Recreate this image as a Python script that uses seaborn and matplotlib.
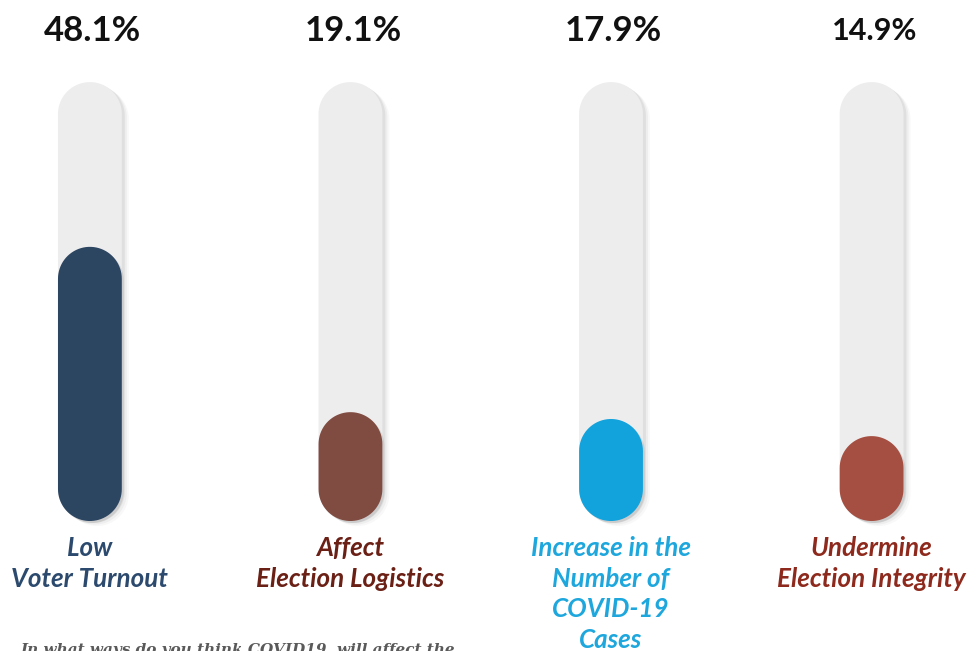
import numpy as np
import pandas as pd
import seaborn as sns
import matplotlib.pyplot as plt
from matplotlib.patches import Polygon

# data
categories = ["Low\nVoter Turnout", "Affect\nElection Logistics",
              "Increase in the\nNumber of\nCOVID-19\nCases", "Undermine\nElection Integrity"]
values = [48.1, 19.1, 17.9, 14.9]
value_labels = ["48.1%", "19.1%", "17.9%", "14.9%"]
fill_colors = ["#2c4561", "#804b40", "#12a2dc", "#a54f42"]
label_colors = ["#2c4a6e", "#6b2016", "#1ea7dd", "#8e2a1d"]
SCALE_MAX = 77  # top of the grey track

sns.set_theme(style="white")
plt.rcParams["font.family"] = ["Lato", "DejaVu Sans"]

fig = plt.figure(figsize=(9.68, 6.51), dpi=100)
ax = fig.add_axes([0, 0, 1, 1])

df = pd.DataFrame({"cat": categories, "val": values, "track": [SCALE_MAX] * len(values)})

sns.barplot(data=df, x="cat", y="track", color="#eeedee", saturation=1,
            width=0.245, ax=ax)
sns.barplot(data=df, x="cat", y="val", hue="cat", palette=fill_colors, saturation=1,
            width=0.245, legend=False, ax=ax)

XLIM = (-0.345, 3.37)
YLIM = (-22.8, 91.4)
ax.set_xlim(*XLIM)
ax.set_ylim(*YLIM)
ax.set_axis_off()

x_upp = (XLIM[1] - XLIM[0]) / 968
y_upp = (YLIM[1] - YLIM[0]) / 651
aspect = y_upp / x_upp


def pill(x0, y0, w, h):
    # rectangle with true semicircle ends (in screen space)
    r = w / 2
    ry = r * aspect
    cx = x0 + r
    t = np.linspace(0, np.pi, 40)
    top = np.column_stack([cx + r * np.cos(t), y0 + h - ry + ry * np.sin(t)])
    bot = np.column_stack([cx - r * np.cos(t), y0 + ry - ry * np.sin(t)])
    return np.vstack([top, bot])


n = len(values)
rects = list(ax.patches)
for k, p in enumerate(rects):
    x0, y0, w, h = p.get_x(), p.get_y(), p.get_width(), p.get_height()
    fc = p.get_facecolor()
    p.remove()
    verts = pill(x0, y0, w, h)
    is_track = k < n
    if is_track:
        # soft shadow
        for j, a in enumerate([0.09, 0.06, 0.04]):
            dx = (3 + j * 2) * x_upp
            dy = (2 + j * 1.5) * y_upp
            ax.add_patch(Polygon(verts + [dx, -dy], closed=True, fc="#555555",
                                 ec="none", alpha=a, zorder=1))
    else:
        ax.add_patch(Polygon(verts + [2 * x_upp, -2 * y_upp], closed=True,
                             fc="#444444", ec="none", alpha=0.12, zorder=2.5))
    ax.add_patch(Polygon(verts, closed=True, fc=fc, ec="none",
                         zorder=2 if is_track else 3))

# percentages on top
for i, lab in enumerate(value_labels):
    ax.text(i + 0.01, SCALE_MAX + 9, lab, ha="center", va="center",
            fontsize=25 if i < 3 else 22, fontweight="bold", color="#111111")

# category labels
for i, (cat, col) in enumerate(zip(categories, label_colors)):
    ax.text(i, -2.65, cat, ha="center", va="top", fontsize=18.7, fontweight="bold",
            fontstyle="italic", color=col, linespacing=1.33)

fig.text(20 / 968, 8 / 651, "In what ways do you think COVID19, will affect the",
         ha="left", va="top", fontsize=11, fontweight="bold", fontstyle="italic",
         family=["DejaVu Serif"], color="#5a5a5a")

fig.savefig("out.png", dpi=100)
